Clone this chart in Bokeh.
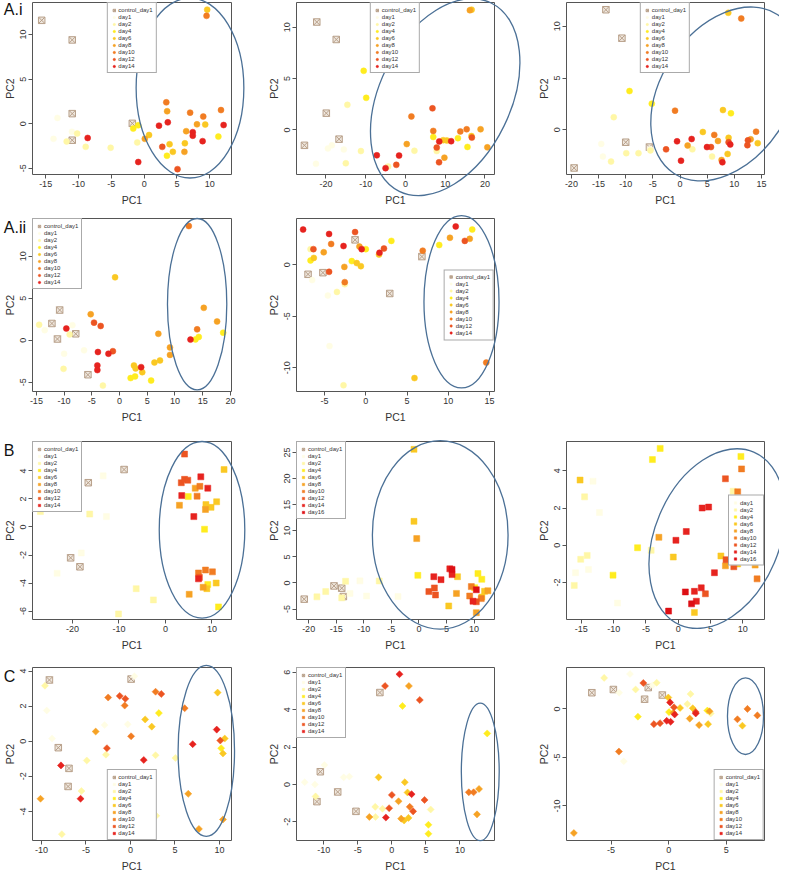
from bokeh.plotting import figure
from bokeh.layouts import column, row
from bokeh.models import FixedTicker, Legend, LegendItem
from bokeh.core.properties import value
from bokeh.embed import file_html
from bokeh.resources import INLINE

FONT = "Liberation Sans"

# ---------------- data ----------------
ORDER = [0, 1, 2, 4, 6, 8, 10, 12, 14, 16]
LABELS = {0: "control_day1", 1: "day1", 2: "day2", 4: "day4", 6: "day6", 8: "day8",
          10: "day10", 12: "day12", 14: "day14", 16: "day16"}
COLORS = {0: "#EFE7DE", 1: "#FFFDE4", 2: "#FFF7A6", 4: "#FFEC1F", 6: "#FAC823", 8: "#F6A224",
          10: "#F17C22", 12: "#EC5522", 14: "#E6231F", 16: "#DD0F14"}
CONTROL_LINE = "#B8A08A"

# Panel A.i (1)
A1_x = [-15.6, -10.95, -10.95, -10.95, -1.8,
        -13.2, -13.8, -11.0,
        -11.8, -10.2, -8.9, -5.1, -1.05,
        -1.66, -0.9, 3.47, 11.3,
        0.75, 3.87, 4.37, 6.2, 9.3, 9.6,
        0.1, 3.5, 6.4, 6.13, 8.04,
        3.37, 7.0, 9.0, 11.7, 9.5,
        2.76, 5.08,
        -8.6, -0.9, 2.26, 3.6, 7.4, 7.4, 8.9, 12.1]
A1_y = [11.6, 9.4, 1.13, -1.85, 0.04,
        0.65, -1.7, -0.9,
        -2.0, -1.1, -2.6, -2.7, -2.1,
        -0.55, -0.18, -3.6, -1.45,
        -1.27, -2.3, -3.16, -2.2, -0.1, 12.8,
        -1.7, 1.4, -0.84, -3.16, -0.07,
        2.4, 1.24, 0.8, 1.53, 12.1,
        -2.6, -5.1,
        -1.6, -4.3, -0.22, 0.15, -0.95, -1.35, -1.96, -0.15]
A1_g = [0, 0, 0, 0, 0,
        1, 1, 1,
        2, 2, 2, 2, 2,
        4, 4, 4, 4,
        6, 6, 6, 6, 6, 6,
        8, 8, 8, 8, 8,
        10, 10, 10, 10, 10,
        12, 12,
        14, 14, 14, 14, 14, 14, 14, 14]

# Panel A.i (2)
A2_x = [-22.3, -17.4, -19.9, -16.7, -25.4,
        -19.5, -18.5, -22.5, -15.5,
        -14.6, -11.2, -15.0, 2.26, 7.87, -4.35,
        -10.5, -9.87, 7.0, 13.2, 15.6,
        9.5, 10.4, 16.6, 16.65,
        0.33, 9.8, 16.2, 18.9, 20.6,
        1.5, 7.0, 13.8, 15.4,
        6.8, -2.3, 8.45, 7.87, 16.7,
        -7.2, -1.6, -5.0, 8.5, 11.5]
A2_y = [10.5, 8.8, 1.63, -0.9, -1.5,
        -1.8, -1.5, -3.3, -1.9,
        2.44, -2.06, -3.25, -2.03, -2.06, -3.56,
        5.75, 3.12, -0.69, -0.8, -1.66,
        -1.0, -1.03, -0.6, 11.7,
        -1.38, -2.7, 11.65, 0.06, -1.7,
        1.31, -0.1, -0.15, 0.06,
        2.1, -3.4, -3.15, -1.72, -0.75,
        -2.47, -2.5, -3.72, -1.12, -1.1]
A2_g = [0, 0, 0, 0, 0,
        1, 1, 1, 1,
        2, 2, 2, 2, 2, 2,
        4, 4, 4, 4, 4,
        6, 6, 6, 6,
        8, 8, 8, 8, 8,
        10, 10, 10, 10,
        12, 12, 12, 12, 12,
        14, 14, 14, 14, 14]

# Panel A.i (3)
A3_x = [-13.65, -10.7, -10.0, -5.63, -19.5,
        -14.5, -14.2, -5.5,
        -12.2, -12.7, -9.9, -7.65, -5.45, 2.27, 5.9,
        -9.3, -5.2, 9.37,
        8.88, 4.2, 7.9, 8.94, 8.76, 14.3,
        1.4, 7.65, 6.98, 13.0,
        -0.92, 11.27, 6.3, 14.0,
        -2.57, 5.7, 8.94, 12.4, 12.5,
        -0.55, 2.14, 0.18, 4.96, 7.8, 9.25]
A3_y = [11.6, 8.85, -1.21, -1.68, -3.7,
        -1.37, -2.6, -1.9,
        1.21, -3.08, -2.27, -2.27, -2.0, -1.9, -2.6,
        3.74, 2.52, 1.59,
        11.3, -0.22, 1.9, -0.78, -2.34, -1.3,
        -1.53, -2.93, -1.09, -0.93,
        1.84, 10.75, -0.5, -0.19,
        -1.9, -1.68, -1.21, -1.5, -1.03,
        -1.12, -0.9, -3.0, -1.68, -3.15, -1.43]
A3_g = [0, 0, 0, 0, 0,
        1, 1, 1,
        2, 2, 2, 2, 2, 2, 2,
        4, 4, 4,
        6, 6, 6, 6, 6, 6,
        8, 8, 8, 8,
        10, 10, 10, 10,
        12, 12, 12, 12, 12,
        14, 14, 14, 14, 14, 14]

# Panel A.ii (1)
A4_x = [-10.8, -12.2, -7.9, -11.2, -5.7,
        -13.5, -10.0, -6.4, -8.5,
        -14.5, -10.1, -9.0, -3.0, -13.4,
        2.0, 2.8, 5.7, 13.7, 18.7, 14.3,
        -0.8, 2.6, 4.1, 6.3, 7.3, 2.9,
        9.1, 9.1, 17.6, 15.2, -5.2, 7.0,
        14.0, 12.5,
        -4.6, -3.4, -1.2,
        -9.6, -3.9, -4.0, -4.0, -2.0, 3.9, 12.8]
A4_y = [3.6, 2.0, 0.77, 0.15, -4.1,
        1.2, -1.6, -1.2, 1.8,
        1.85, -3.4, 0.7, -5.4, 8.0,
        -4.5, -4.3, -4.8, 0.1, 0.9, 0.4,
        7.5, -3.0, -3.8, -2.65, -2.4, -3.35,
        -0.85, -1.74, 2.24, 3.86, 3.1, 0.77,
        1.3, 13.6,
        2.1, 1.7, -1.3,
        1.4, -1.4, -3.0, -3.55, -1.6, -3.2, 0.08]
A4_g = [0, 0, 0, 0, 0,
        1, 1, 1, 1,
        2, 2, 2, 2, 2,
        4, 4, 4, 4, 4, 4,
        6, 6, 6, 6, 6, 6,
        8, 8, 8, 8, 8, 8,
        10, 10,
        12, 12, 12,
        14, 14, 14, 14, 14, 14, 14]

# Panel A.ii (2)
A5_x = [-1.3, -7.0, -5.2, 6.8, 2.9,
        -4.6, -4.4, -6.5,
        -6.7, -3.5, -2.55, -2.7,
        -6.7, 3.1, 0.0, -1.7, 12.9, 8.9,
        -6.3, -1.1, -0.6, 1.6, 5.9,
        -5.1, -2.6, -0.77, 10.2, 12.6,
        -4.2, 6.9, 14.6, -2.55,
        -6.35, -4.45, -1.3, 2.2, 12.0,
        -7.6, -4.45, -2.7, -0.5, 1.66, 10.9]
A5_y = [2.4, -0.94, -0.78, 0.78, -2.8,
        -3.0, -7.9, -1.5,
        1.5, -2.65, -1.9, -11.7,
        0.4, 2.3, 1.5, 0.34, 3.4, 1.9,
        0.65, 0.15, -0.15, 0.97, -11.0,
        1.2, -0.22, 1.75, 2.6, 2.5,
        2.0, 1.35, -9.5, -1.7,
        1.5, -0.7, 3.15, 1.56, 2.3,
        3.4, 2.97, 1.8, 1.5, 1.15, 3.7]
A5_g = [0, 0, 0, 0, 0,
        1, 1, 1,
        2, 2, 2, 2,
        4, 4, 4, 4, 4, 4,
        6, 6, 6, 6, 6,
        8, 8, 8, 8, 8,
        10, 10, 10, 10,
        12, 12, 12, 12, 12,
        14, 14, 14, 14, 14, 14]

# Panel B (1)
B1_x = [-8.9, -16.6, -19.5, -20.4, -18.4,
        -13.4, -12.7, -18.1, -23.3,
        -26.9, -16.3, -6.3, -2.6, -10.1,
        4.9, 8.4, 11.4, 9.1,
        12.6, 8.7, 9.8, 11.0, 10.9, 8.9,
        3.0, 8.6, 6.4, 5.1, 8.1,
        6.8, 7.4, 8.6, 7.1, 10.1,
        3.4, 4.1, 4.8, 4.1, 7.3,
        3.5, 7.6, 9.1, 6.1, 7.1]
B1_y = [4.1, 3.16, 1.7, -2.2, -2.84,
        3.65, 0.74, -1.85, -3.3,
        1.1, 0.92, -4.4, -5.2, -6.2,
        2.17, -0.16, -5.7, -4.1,
        4.1, 1.6, 1.4, 1.8, -4.0, -4.4,
        1.55, 1.25, 2.77, -4.8, -4.3,
        2.2, 2.9, -3.07, -3.28, -3.2,
        3.16, 3.4, 3.34, 5.2, -3.6,
        2.24, 3.58, 2.77, 0.74, -3.7]
B1_g = [0, 0, 0, 0, 0,
        1, 1, 1, 1,
        2, 2, 2, 2, 2,
        4, 4, 4, 4,
        6, 6, 6, 6, 6, 6,
        8, 8, 8, 8, 8,
        10, 10, 10, 10, 10,
        12, 12, 12, 12, 12,
        14, 14, 14, 14, 14]

# Panel B (2)
B2_x = [-20.8, -15.4, -14.0, -13.7,
        -10.7, -9.5, -3.8, -12.5,
        -18.5, -16.9, -14.0, -13.3, -7.2,
        -0.2, 10.7, 11.4, 10.1,
        -0.9, -0.9, 7.0, 5.4, 11.4, 11.9,
        -0.4, 6.8, 10.4, 12.5,
        9.5, 9.2, 11.3,
        1.8, 2.8, 3.0, 10.4,
        2.7, 4.0, 5.6, 6.0, 9.8,
        6.0, 10.4]
B2_y = [-3.1, -0.57, -1.0, -2.6,
        0.4, -2.5, -2.6, -2.0,
        -2.66, -1.65, -2.85, 0.32, 0.38,
        1.46, 1.8, 0.7, -0.9,
        25.6, 11.8, 1.2, -4.4, -2.7, -1.6,
        8.5, -2.0, -5.7, -1.5,
        -0.7, -2.5, -3.0,
        -1.65, -0.95, -2.3, -3.6,
        1.2, 0.63, 2.7, 1.6, -3.5,
        2.6, -1.3]
B2_g = [0, 0, 0, 0,
        1, 1, 1, 1,
        2, 2, 2, 2, 2,
        4, 4, 4, 4,
        6, 6, 6, 6, 6, 6,
        8, 8, 8, 8,
        10, 10, 10,
        12, 12, 12, 12,
        14, 14, 14, 14, 14,
        16, 16]

# Panel B (3)
B3_x = [-13.2, -12.2, -15.9, -13.9, -9.4,
        -14.5, -15.1, -14.1, -16.1, -4.2, 8.5,
        -2.8, -4.0, -10.1, -6.3, 9.7, 9.0,
        -15.2, -0.77, 6.6, 2.5, 9.2, 9.2,
        -3.0, 7.3, 10.4, 11.9,
        9.8, 9.2, 12.2,
        7.3, 7.4, 8.6, 4.2,
        3.7, 4.7, -0.36, 1.24, 5.6, 3.56, 2.5, 2.8,
        -1.5, 1.1, 2.06]
B3_y = [3.44, 1.76, -1.47, -1.3, -3.1,
        2.6, -0.75, -0.54, -2.15, -0.27, 2.9,
        5.2, 4.6, -1.6, -0.13, 4.77, -0.54,
        3.5, -0.63, -0.57, -3.6, -1.0, -0.75,
        0.43, -1.1, 0.29, -1.06,
        4.1, 2.87, -1.8,
        3.57, -0.77, -1.15, -2.6,
        2.0, 2.05, 0.27, 0.74, -1.47, -2.28, -2.47, -3.0,
        -3.53, -2.5, -3.14]
B3_g = [1, 1, 1, 1, 1,
        2, 2, 2, 2, 2, 2,
        4, 4, 4, 4, 4, 4,
        6, 6, 6, 6, 6, 6,
        8, 8, 8, 8,
        10, 10, 10,
        12, 12, 12, 12,
        14, 14, 14, 14, 14, 14, 14, 14,
        16, 16, 16]

# Panel C (1)
C1_x = [-9.1, 0.08, -8.1, -6.9, -7.0,
        0.45, -9.4, -8.8, -2.9, -0.3,
        -9.6, -2.75, -4.9, -5.5, 2.83, 5.06, -7.7, 2.9,
        3.2, 10.2,
        1.66, 9.8, 10.6, 10.4, 2.4,
        -3.9, -10.1, 6.5, 7.7, 10.4,
        -2.5, -0.64, 0.08, 2.83, 6.1,
        -1.2, -0.57, 3.47, 10.1, -2.64,
        -7.8, -5.6, 1.5, 7.0, 9.7]
C1_y = [3.49, 3.54, -0.37, -1.55, -2.58,
        3.7, 1.75, 0.15, 0.92, 0.96,
        3.16, -0.77, -1.1, -2.84, -0.8, -0.96, -5.3, -4.25,
        1.6, -0.4,
        1.24, 2.77, 0.15, -0.7, 0.83,
        0.55, -3.28, -3.0, -5.0, -4.46,
        2.49, 2.03, 0.28, 2.82, 1.88,
        2.58, 2.42, 2.69, 0.04, -0.4,
        -1.38, -3.28, -1.07, -0.17, 0.66]
C1_g = [0, 0, 0, 0, 0,
        1, 1, 1, 1, 1,
        2, 2, 2, 2, 2, 2, 2, 2,
        4, 4,
        6, 6, 6, 6, 6,
        8, 8, 8, 8, 8,
        10, 10, 10, 10, 10,
        12, 12, 12, 12, 12,
        14, 14, 14, 14, 14]

# Panel C (2)
C2_x = [-1.76, -10.5, -11.0, -7.95, -5.27,
        -12.8, -11.3, -9.9, -7.07, -6.24,
        -11.2, -2.44, -1.37, 5.7, -2.4,
        1.56, 5.37, 5.37, 14.0,
        -1.95, 1.9, 2.3, 2.44, 1.8,
        2.5, 0.98, -3.3, 1.37, 12.5, 12.8,
        11.3, 12.0, 2.63,
        -1.0, 4.1, 0.0, -0.4, 3.12, 4.8,
        1.12, 2.9, -0.88]
C2_y = [4.92, 0.68, -0.92, -0.4, -1.44,
        0.12, 0.0, 1.04, 0.38, 0.42,
        -0.64, -1.2, -1.3, -1.34, -1.74,
        4.2, -2.16, -2.64, 2.73,
        0.38, 0.12, -0.43, -1.79, -1.93,
        5.27, -0.9, -1.74, -1.83, -1.6, -0.24,
        -0.42, -0.42, -1.2,
        5.27, 4.52, -0.56, -1.27, -1.44, -0.83,
        5.9, -0.52, -1.77]
C2_g = [0, 0, 0, 0, 0,
        1, 1, 1, 1, 1,
        2, 2, 2, 2, 2,
        4, 4, 4, 4,
        6, 6, 6, 6, 6,
        8, 8, 8, 8, 8, 8,
        10, 10, 10,
        12, 12, 12, 12, 12, 12,
        14, 14, 14]

# Panel C (3)
C3_x = [-6.67, -4.8, -1.77, -2.09, -0.55,
        -3.36, -4.3, -3.9, -1.4,
        -5.6, -2.87, -1.04, 1.9, 1.62, 3.65,
        -2.67, 0.03, 3.36,
        -0.03, 0.99, 2.09, 3.42, 6.4,
        0.41, 1.83, 2.64, -8.23, 3.55,
        -4.32, 5.97, 6.84, 7.7,
        -2.2, 0.46, 2.35, -1.28, -0.75,
        0.12, 0.52, -0.17, 0.17, 2.35]
C3_y = [1.67, 2.0, 2.2, 1.0, 1.43,
        3.6, 1.67, -5.4, 2.43,
        3.2, 2.0, 2.7, 1.53, 0.5, -0.47,
        -0.8, -0.33, -0.17,
        1.17, 0.1, 0.07, -1.57, -1.73,
        -0.4, -1.0, -1.67, -12.8, -0.25,
        -4.4, -1.07, 0.0, -0.67,
        2.67, 0.17, -0.33, -1.57, -1.47,
        0.67, -0.57, -1.23, -1.33, -0.47]
C3_g = [0, 0, 0, 0, 0,
        1, 1, 1, 1,
        2, 2, 2, 2, 2, 2,
        4, 4, 4,
        6, 6, 6, 6, 6,
        8, 8, 8, 8, 8,
        10, 10, 10, 10,
        12, 12, 12, 12, 12,
        14, 14, 14, 14, 14]

# axis limits and ticks
A1_xr, A1_yr, A1_xt, A1_yt = (-17.0, 13.3), (-5.7, 13.6), [-15, -10, -5, 0, 5, 10], [-5, 0, 5, 10]
A2_xr, A2_yr, A2_xt, A2_yt = (-27.4, 22.4), (-4.34, 12.4), [-20, -10, 0, 10, 20], [0, 5, 10]
A3_xr, A3_yr, A3_xt, A3_yt = (-20.9, 15.55), (-4.33, 12.3), [-20, -15, -10, -5, 0, 5, 10, 15], [0, 5, 10]
A4_xr, A4_yr, A4_xt, A4_yt = (-15.7, 20.2), (-6.1, 14.5), [-15, -10, -5, 0, 5, 10, 15, 20], [-5, 0, 5, 10]
A5_xr, A5_yr, A5_xt, A5_yt = (-8.4, 15.6), (-12.3, 4.47), [-5, 0, 5, 10, 15], [-10, -5, 0]
B1_xr, B1_yr, B1_xt, B1_yt = (-28.6, 14.2), (-6.6, 6.1), [-20, -10, 0, 10], [-6, -4, -2, 0, 2, 4]
B2_xr, B2_yr, B2_xt, B2_yt = (-22.2, 13.7), (-7.0, 27.1), [-20, -15, -10, -5, 0, 5, 10], [-5, 0, 5, 10, 15, 20, 25]
B3_xr, B3_yr, B3_xt, B3_yt = (-17.3, 13.35), (-3.98, 5.57), [-15, -10, -5, 0, 5, 10], [-2, 0, 2, 4]
C1_xr, C1_yr, C1_xt, C1_yt = (-11.0, 11.36), (-5.66, 4.2), [-10, -5, 0, 5, 10], [-4, -2, 0, 2, 4]
C2_xr, C2_yr, C2_xt, C2_yt = (-14.0, 15.07), (-3.0, 6.26), [-10, -5, 0, 5, 10], [-2, 0, 2, 4, 6]
C3_xr, C3_yr, C3_xt, C3_yt = (-8.87, 8.32), (-13.57, 4.27), [-5, 0, 5], [-10, -5, 0]

# highlighted clusters: centre x, centre y, width (x units), height (y units), angle (deg)
A1_ell = (6.98, 4.0, 16.4, 20.2, 0)
A2_ell = (10.0, 3.19, 52.7, 12.75, 64)
A3_ell = (8.4, 3.46, 34.9, 12.5, 57)
A4_ell = (14.0, 4.3, 10.7, 20.4, 0)
A5_ell = (11.6, -3.6, 9.1, 16.7, 0)
B1_ell = (7.86, -0.2, 18.4, 12.6, 0)
B2_ell = (3.86, 9.2, 24.6, 36.1, 0)
B3_ell = (6.0, 0.36, 29.1, 6.67, 67)
C1_ell = (8.53, -0.55, 6.34, 9.74, 0)
C2_ell = (12.98, 0.67, 5.56, 7.36, 0)
C3_ell = (6.67, -0.75, 3.13, 7.9, 0)

# ---------------- layout ----------------
COLS = [(264, 30, 33), (264, 32, 34), (251, 38, 15)]
ROWS = [(208, 2, 32), (217, 10, 32), (228, 16, 32), (221, 14, 32)]


def panel(xs, ys, gs, xr, yr, xt, yt, ell, marker, legend_loc, col, rw, tag=None):
    w, bl, br = COLS[col]
    h, bt, bb = ROWS[rw]
    p = figure(width=w, height=h, x_range=xr, y_range=yr, output_backend="svg",
               toolbar_location=None, min_border_left=bl, min_border_right=br,
               min_border_top=bt, min_border_bottom=bb)
    p.grid.visible = False
    p.outline_line_color = "#555555"
    p.outline_line_width = 1
    p.background_fill_color = "white"
    p.border_fill_color = "white"
    for ax, ticks, lab in ((p.xaxis[0], xt, "PC1"), (p.yaxis[0], yt, "PC2")):
        ax.ticker = FixedTicker(ticks=ticks)
        ax.major_label_overrides = {t: str(t) for t in ticks}
        ax.minor_tick_line_color = None
        ax.major_tick_in = 0
        ax.major_tick_out = 4
        ax.major_tick_line_color = "#555555"
        ax.axis_line_color = "#555555"
        ax.bounds = (min(ticks), max(ticks))
        ax.major_label_text_font = FONT
        ax.major_label_text_font_size = "9px"
        ax.major_label_text_color = "#333333"
        ax.major_label_standoff = 2
        ax.axis_label = lab
        ax.axis_label_text_font = FONT
        ax.axis_label_text_font_size = "10.5px"
        ax.axis_label_text_font_style = "normal"
        ax.axis_label_text_color = "#333333"
    p.xaxis[0].axis_label_standoff = 4
    p.yaxis[0].axis_label_standoff = 2
    p.yaxis[0].major_label_orientation = "vertical"

    items = []
    for d in ORDER:
        idx = [i for i, g in enumerate(gs) if g == d]
        if not idx:
            continue
        x = [xs[i] for i in idx]
        y = [ys[i] for i in idx]
        if d == 0:
            r = p.scatter(x, y, marker="square_x", size=6.5, fill_color=COLORS[0],
                          line_color=CONTROL_LINE, line_width=1)
        elif marker == "diamond":
            r = p.scatter(x, y, marker="square", size=5, angle=45, angle_units="deg",
                          fill_color=COLORS[d], line_color=COLORS[d], line_width=0.5)
        else:
            r = p.scatter(x, y, marker=marker, size=6, fill_color=COLORS[d],
                          line_color=COLORS[d], line_width=0.5)
        items.append(LegendItem(label=LABELS[d], renderers=[r]))

    cx, cy, ew, eh, ang = ell
    p.ellipse(x=[cx], y=[cy], width=[ew], height=[eh], angle=[ang], angle_units="deg",
              fill_color=None, line_color="#4B7096", line_width=1.3, level="overlay")

    leg = Legend(items=items, location=legend_loc)
    leg.label_text_font = FONT
    leg.label_text_font_size = "6px"
    leg.label_text_color = "#333333"
    leg.label_height = 7
    leg.glyph_height = 6
    leg.glyph_width = 6
    leg.label_standoff = 2
    leg.spacing = 0
    leg.padding = 3
    leg.margin = 0
    leg.border_line_color = "#555555"
    leg.border_line_width = 1
    leg.background_fill_alpha = 1
    p.add_layout(leg)

    if tag is not None:
        fw = w - bl - br
        fh = h - bt - bb
        tx = xr[0] - (bl - 1) / fw * (xr[1] - xr[0])
        top_off = bt if rw == 0 else -1
        ty = yr[1] + top_off / fh * (yr[1] - yr[0])
        p.text(x=[tx], y=[ty], text=[tag], text_font=value(FONT), text_font_size="16px",
               text_color="#111111", text_baseline="top", text_align="left", level="overlay")
    return p


pA1 = panel(A1_x, A1_y, A1_g, A1_xr, A1_yr, A1_xt, A1_yt, A1_ell, "circle", "top_center", 0, 0, "A.i")
pA2 = panel(A2_x, A2_y, A2_g, A2_xr, A2_yr, A2_xt, A2_yt, A2_ell, "circle", "top_center", 1, 0)
pA3 = panel(A3_x, A3_y, A3_g, A3_xr, A3_yr, A3_xt, A3_yt, A3_ell, "circle", "top_center", 2, 0)
pA4 = panel(A4_x, A4_y, A4_g, A4_xr, A4_yr, A4_xt, A4_yt, A4_ell, "circle", "top_left", 0, 1, "A.ii")
pA5 = panel(A5_x, A5_y, A5_g, A5_xr, A5_yr, A5_xt, A5_yt, A5_ell, "circle", "center_right", 1, 1)
pB1 = panel(B1_x, B1_y, B1_g, B1_xr, B1_yr, B1_xt, B1_yt, B1_ell, "square", "top_left", 0, 2, "B")
pB2 = panel(B2_x, B2_y, B2_g, B2_xr, B2_yr, B2_xt, B2_yt, B2_ell, "square", "top_left", 1, 2)
pB3 = panel(B3_x, B3_y, B3_g, B3_xr, B3_yr, B3_xt, B3_yt, B3_ell, "square", "center_right", 2, 2)
pC1 = panel(C1_x, C1_y, C1_g, C1_xr, C1_yr, C1_xt, C1_yt, C1_ell, "diamond", "bottom_center", 0, 3, "C")
pC2 = panel(C2_x, C2_y, C2_g, C2_xr, C2_yr, C2_xt, C2_yt, C2_ell, "diamond", "top_left", 1, 3)
pC3 = panel(C3_x, C3_y, C3_g, C3_xr, C3_yr, C3_xt, C3_yt, C3_ell, "diamond", "bottom_right", 2, 3)

layout = column(row(pA1, pA2, pA3), row(pA4, pA5), row(pB1, pB2, pB3), row(pC1, pC2, pC3))

open("out.html", "w").write(file_html(layout, INLINE))
